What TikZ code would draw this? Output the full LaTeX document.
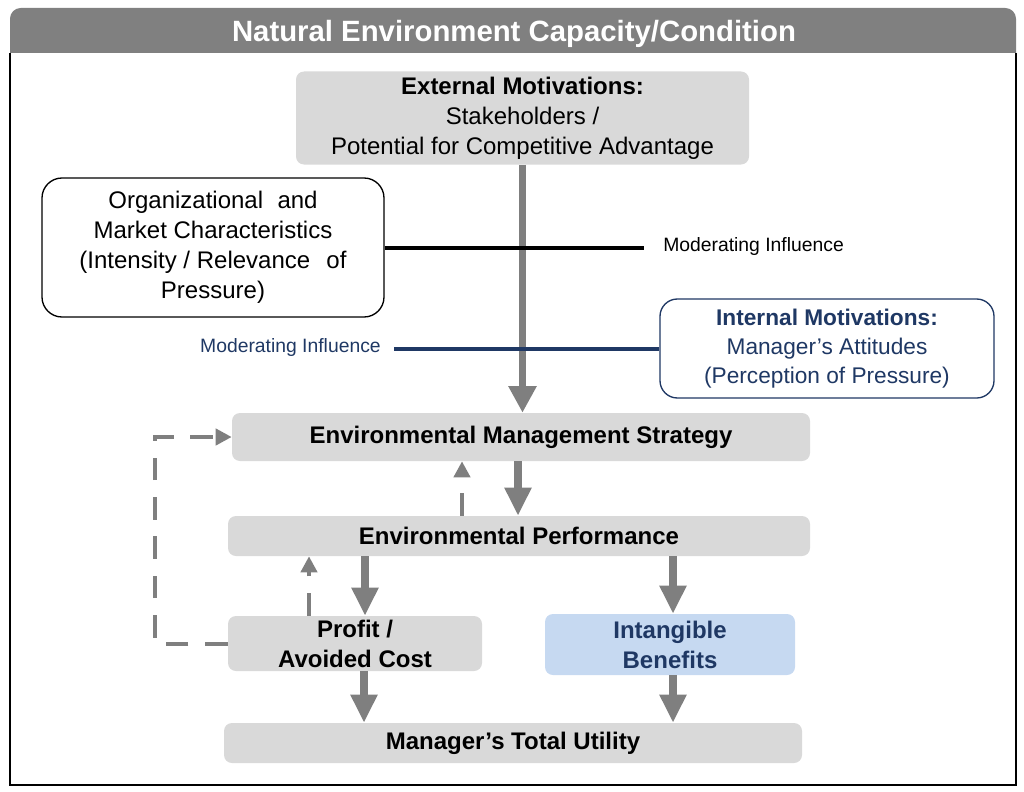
\documentclass[tikz,border=0pt]{standalone}
\usepackage{fontspec}
\setmainfont{Liberation Sans}
\usetikzlibrary{arrows.meta}
\definecolor{boxgray}{HTML}{D9D9D9}
\definecolor{titlegray}{HTML}{808080}
\definecolor{arrgray}{HTML}{7F7F7F}
\definecolor{navy}{HTML}{1F3864}
\definecolor{lightblue}{HTML}{C6D9F1}
\newcommand\mainsize{\fontsize{18}{22.5}\selectfont}
\tikzset{
  graybox/.style={rectangle, rounded corners=6pt, fill=boxgray, align=center, inner sep=0pt},
  bigarrow/.style={draw=arrgray, line width=5.5pt, -{Triangle[width=20pt,length=20pt]}},
  vertarrow/.style={draw=arrgray, line width=6pt, -{Triangle[width=19pt,length=21pt]}},
  dasharrow/.style={draw=arrgray, line width=3pt, dash pattern=on 17pt off 12.5pt, -{Triangle[width=12pt,length=12pt]}},
  modtext/.style={font=\fontsize{14.5}{16}\selectfont, inner sep=0pt},
}
\begin{document}
\begin{tikzpicture}[x=0.75pt,y=-0.75pt]
\useasboundingbox (0,0) rectangle (1024,792);
% frame and title bar
\fill[titlegray] (10,53) [rounded corners=8pt] -- (10,8) -- (1016,8) [sharp corners] -- (1016,53) -- cycle;
\draw[line width=1.5pt] (10,53) -- (10,785) -- (1016,785) -- (1016,53);
\node[text=white, font=\fontsize{22}{24}\bfseries\selectfont, inner sep=0pt] (title) at (514,34) {Natural Environment Capacity/Condition};

% nodes
\node[graybox, minimum width=339.75pt, minimum height=69.75pt, font=\mainsize] (ext) at (522.5,118)
  {\textbf{External Motivations:}\\Stakeholders /\\Potential for Competitive Advantage};
\node[rectangle, rounded corners=15pt, draw=black, line width=1pt, fill=white, minimum width=256.5pt, minimum height=104.25pt, align=center, inner sep=0pt, font=\mainsize] (org) at (213,247.5)
  {Organizational\hspace{0.6em}and\\Market Characteristics\\(Intensity / Relevance\hspace{0.4em} of\\Pressure)};
\node[rectangle, rounded corners=13pt, draw=navy, line width=1pt, fill=white, text=navy, minimum width=250.5pt, minimum height=74.25pt, align=center, inner sep=0pt, font=\fontsize{17}{22}\selectfont] (int) at (827,348.5)
  {\textbf{Internal Motivations:}\\Manager's Attitudes\\(Perception of Pressure)};
\node[graybox, minimum width=433.5pt, minimum height=36pt, font=\mainsize\bfseries] (ems) at (521,437) {Environmental Management Strategy};
\node[graybox, minimum width=436.5pt, minimum height=30pt, font=\mainsize\bfseries] (ep) at (519,536) {Environmental Performance};
\node[graybox, minimum width=190.5pt, minimum height=41.25pt, font=\mainsize\bfseries] (profit) at (355,643.5) {Profit /\\Avoided Cost};
\node[graybox, fill=lightblue, text=navy, minimum width=187.5pt, minimum height=45.75pt, font=\mainsize\bfseries] (intang) at (670,644.5) {Intangible\\Benefits};
\node[graybox, minimum width=433.5pt, minimum height=30pt, font=\mainsize\bfseries] (mtu) at (513,743) {Manager's Total Utility};

% moderating influence labels
\node[modtext, anchor=west] (mod1) at (663,246) {Moderating Influence};
\node[modtext, anchor=east, text=navy] (mod2) at (381,347) {Moderating Influence};

% connectors
\draw[bigarrow] (ext.south) -- (ext.south |- ems.north);
\draw[line width=3pt, black] (org.east) -- ([xshift=-14pt]mod1.west |- org.east);
\draw[line width=3pt, navy] ([xshift=10pt]mod2.east |- int.west) -- (int.west);

\draw[vertarrow] (ems.south -| 518,0) -- (ep.north -| 518,0);
\draw[vertarrow] (ep.south -| 365,0) -- (profit.north -| 365,0);
\draw[vertarrow] (ep.south -| 673,0) -- (intang.north -| 673,0);
\draw[vertarrow] (profit.south -| 364,0) -- (mtu.north -| 364,0);
\draw[vertarrow] (intang.south -| 673,0) -- (mtu.north -| 673,0);

\draw[dasharrow] (ep.north -| 462,0) -- (ems.south -| 462,0);
\draw[dasharrow] (profit.north -| 309,0) -- (ep.south -| 309,0);
\draw[dasharrow] (profit.west) -- (155,643.5) -- (155,437) -- (ems.west);
\end{tikzpicture}
\end{document}
